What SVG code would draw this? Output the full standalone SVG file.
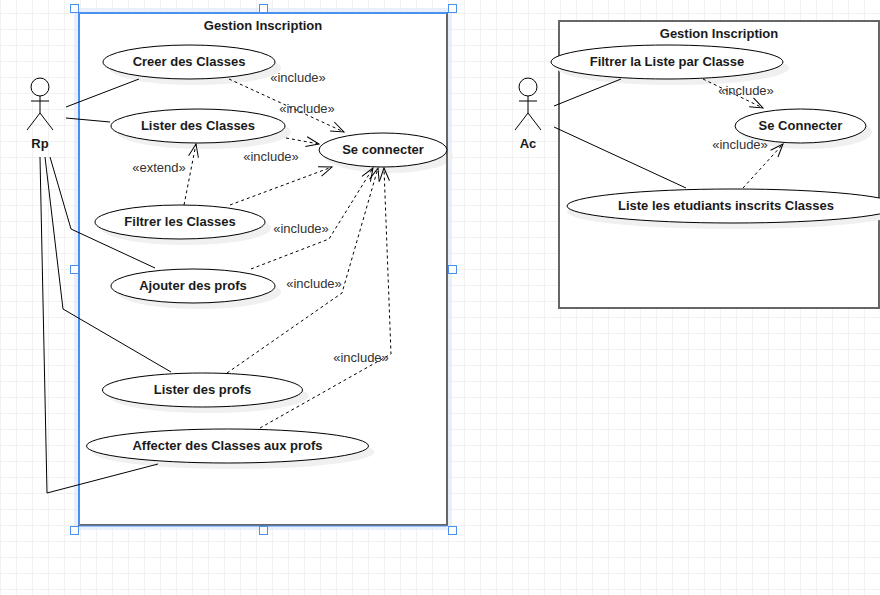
<svg xmlns="http://www.w3.org/2000/svg" width="880" height="595" viewBox="0 0 880 595">
<style>
text{font-family:"Liberation Sans",Arial,sans-serif;text-anchor:middle}
.n{font-size:13px;font-weight:bold;fill:#1a1a1a}
.l{font-size:13px;fill:#333}
.u{fill:#fff;stroke:#000;stroke-width:1}
.s{fill:#f0f0f0}
.b{fill:#fff;stroke:#666;stroke-width:2}
.a{fill:none;stroke:#000;stroke-width:1}
.d{fill:none;stroke:#000;stroke-width:1;stroke-dasharray:3 3}
.h{fill:none;stroke:#000;stroke-width:1}
.sel{fill:#fff;stroke:#4a90f0;stroke-width:1}
</style>
<defs>
<pattern id="g" width="16" height="16" patternUnits="userSpaceOnUse" y="13">
<path d="M0.500 0V16M0 0.500H16" fill="none" stroke="#f1f1f1" stroke-width="1"/>
</pattern>
<marker id="o" markerWidth="16" markerHeight="12" refX="14" refY="6" orient="auto" markerUnits="userSpaceOnUse">
<path d="M1 1L14 6L1 11" class="h"/>
</marker>
</defs>
<rect width="880" height="595" fill="#fff"/>
<rect width="880" height="595" fill="url(#g)"/>

<g id="boundary-left">
<rect x="74" y="8" width="378" height="522" fill="#dfeafb" opacity="0.7"/>
<rect x="79" y="13" width="368" height="512" class="b"/>
<path d="M79 525V13H447" fill="none" stroke="#4a90f0" stroke-width="2"/>
<path d="M79 526H447" fill="none" stroke="#4a90f0" stroke-width="1"/>
<text x="263" y="30" class="n">Gestion Inscription</text>
</g>
<g id="boundary-right">
<rect x="559" y="21" width="320" height="287" class="b"/>
<text x="719" y="38" class="n">Gestion Inscription</text>
</g>

<g id="uc-creer"><ellipse cx="195" cy="68" rx="86" ry="17" class="s"/><ellipse cx="189" cy="62" rx="86" ry="17" class="u"/><text x="189" y="66" class="n">Creer des Classes</text></g>
<g id="uc-lister-classes"><ellipse cx="204" cy="132" rx="87" ry="17" class="s"/><ellipse cx="198" cy="126" rx="87" ry="17" class="u"/><text x="198" y="130" class="n">Lister des Classes</text></g>
<g id="uc-se-connecter"><ellipse cx="389" cy="156" rx="64" ry="17" class="s"/><path d="M447 140V170" stroke="#666" stroke-width="2"/><ellipse cx="383" cy="150" rx="64" ry="17" class="u"/><text x="383" y="154" class="n">Se connecter</text></g>
<g id="uc-filtrer"><ellipse cx="186" cy="228" rx="85" ry="17" class="s"/><ellipse cx="180" cy="222" rx="85" ry="17" class="u"/><text x="180" y="226" class="n">Filtrer les Classes</text></g>
<g id="uc-ajouter"><ellipse cx="199" cy="292" rx="82" ry="17" class="s"/><ellipse cx="193" cy="286" rx="82" ry="17" class="u"/><text x="193" y="290" class="n">Ajouter des profs</text></g>
<g id="uc-lister-profs"><ellipse cx="208.500" cy="396" rx="100" ry="17" class="s"/><ellipse cx="202.500" cy="390" rx="100" ry="17" class="u"/><text x="202.500" y="394" class="n">Lister des profs</text></g>
<g id="uc-affecter"><ellipse cx="233.500" cy="452" rx="141" ry="17" class="s"/><ellipse cx="227.500" cy="446" rx="141" ry="17" class="u"/><text x="227.500" y="450" class="n">Affecter des Classes aux profs</text></g>

<g id="uc-filtrer-liste"><ellipse cx="673" cy="68" rx="116" ry="17" class="s"/><ellipse cx="667" cy="62" rx="116" ry="17" class="u"/><text x="667" y="66" class="n">Filtrer la Liste par Classe</text></g>
<g id="uc-connecter-2"><ellipse cx="806.500" cy="132" rx="65.500" ry="17" class="s"/><ellipse cx="800.500" cy="126" rx="65.500" ry="17" class="u"/><text x="800.500" y="130" class="n">Se Connecter</text></g>
<g id="uc-liste-etudiants"><ellipse cx="733" cy="212" rx="166" ry="17" class="s"/><ellipse cx="733" cy="206" rx="166" ry="17" class="u"/><text x="726" y="210" class="n">Liste les etudiants inscrits Classes</text></g>

<g id="connectors">
<path class="a" d="M66 107L139 79"/>
<path class="a" d="M66 118L110 122"/>
<path class="a" d="M50 157L71 229L155 268"/>
<path class="a" d="M45 157L63 309L171 372"/>
<path class="a" d="M40 157L47 493L158 464"/>
<path class="a" d="M554 106L621 79"/>
<path class="a" d="M554 127L686 188"/>
<path class="d" d="M229 79L344 132" marker-end="url(#o)"/>
<path class="d" d="M286 138L319 144" marker-end="url(#o)"/>
<path class="d" d="M230 205L332 167" marker-end="url(#o)"/>
<path class="d" d="M184 205L196 144" marker-end="url(#o)"/>
<path class="d" d="M251 269L329 239L373 168" marker-end="url(#o)"/>
<path class="d" d="M227 373L342 293L378 168" marker-end="url(#o)"/>
<path class="d" d="M260 428L391 354L384 168" marker-end="url(#o)"/>
<path class="d" d="M703 79L763 108" marker-end="url(#o)"/>
<path class="d" d="M743 188L783 144" marker-end="url(#o)"/>
</g>

<g id="labels">
<text x="298" y="82" class="l">«include»</text>
<text x="307" y="113" class="l">«include»</text>
<text x="271" y="161" class="l">«include»</text>
<text x="159" y="172" class="l">«extend»</text>
<text x="301" y="233" class="l">«include»</text>
<text x="314" y="288" class="l">«include»</text>
<text x="361" y="362" class="l">«include»</text>
<text x="746" y="95" class="l">«include»</text>
<text x="740" y="149" class="l">«include»</text>
</g>

<g id="actor-rp">
<circle cx="40" cy="87" r="9" class="u"/>
<path class="a" d="M40 96V113M31 101H49M40 113L27 130M40 113L53 130"/>
<text x="40" y="148" class="n">Rp</text>
</g>
<g id="actor-ac">
<circle cx="528" cy="87" r="9" class="u"/>
<path class="a" d="M528 96V113M519 101H537M528 113L515 130M528 113L541 130"/>
<text x="528" y="148" class="n">Ac</text>
</g>

<g id="selection-handles">
<rect x="70.500" y="4.500" width="8" height="8" class="sel"/>
<rect x="259.500" y="4.500" width="8" height="8" class="sel"/>
<rect x="448.500" y="4.500" width="8" height="8" class="sel"/>
<rect x="70.500" y="265.500" width="8" height="8" class="sel"/>
<rect x="448.500" y="265.500" width="8" height="8" class="sel"/>
<rect x="70.500" y="526.500" width="8" height="8" class="sel"/>
<rect x="259.500" y="526.500" width="8" height="8" class="sel"/>
<rect x="448.500" y="526.500" width="8" height="8" class="sel"/>
</g>
</svg>
